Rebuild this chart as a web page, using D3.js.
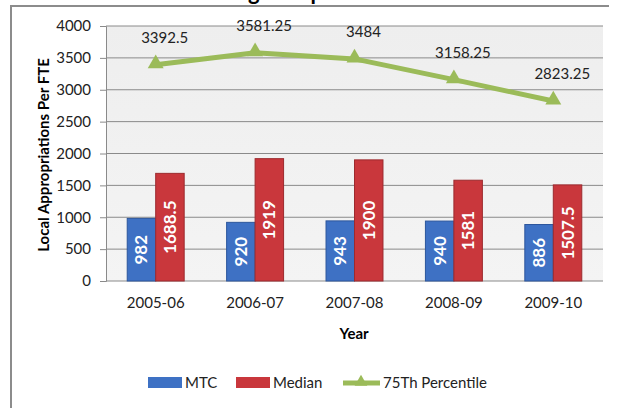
<!DOCTYPE html>
<html>
<head>
<meta charset="utf-8">
<title>Local Appropriations Comparison</title>
<script src="https://cdn.jsdelivr.net/npm/d3@7"></script>
<style>
  body { margin: 0; background: #fff; }
  text { font-family: Lato, "Open Sans", sans-serif; }
</style>
</head>
<body>
<svg id="chart" width="618" height="408"></svg>
<script>
// data
const years = ["2005-06", "2006-07", "2007-08", "2008-09", "2009-10"];
const mtc = [982, 920, 943, 940, 886];
const median = [1688.5, 1919, 1900, 1581, 1507.5];
const pct75 = [3392.5, 3581.25, 3484, 3158.25, 2823.25];
const yTicks = [0, 500, 1000, 1500, 2000, 2500, 3000, 3500, 4000];

const svg = d3.select("#chart");
const plot = {left: 106, right: 603, top: 26, bottom: 281};

// frame of the whole chart (top + left edge visible)
svg.append("path")
  .attr("d", "M11,408 L11,6 L609,6")
  .attr("fill", "none").attr("stroke", "#8c8c8c").attr("stroke-width", 2);

// title, cropped at the top of the picture
svg.append("text")
  .attr("x", 125).attr("y", 0)
  .attr("font-size", 22).attr("font-weight", "bold")
  .text("Local Funding Comparison");

const defs = svg.append("defs");
const bg = defs.append("linearGradient").attr("id", "bg").attr("x1", 0).attr("y1", 0).attr("x2", 0).attr("y2", 1);
bg.append("stop").attr("offset", 0).attr("stop-color", "#eeeeee");
bg.append("stop").attr("offset", 1).attr("stop-color", "#f4f4f4");

const x = d3.scaleBand().domain(years).range([plot.left, plot.right]).paddingInner(0.427).paddingOuter(0.2135);
const inner = d3.scaleBand().domain(["mtc", "median"]).range([0, x.bandwidth()]);
const y = d3.scaleLinear().domain([0, 4000]).range([plot.bottom, plot.top]);
const cx = d => x(d) + x.bandwidth() / 2;

svg.append("rect")
  .attr("x", plot.left).attr("y", plot.top)
  .attr("width", plot.right - plot.left).attr("height", plot.bottom - plot.top)
  .attr("fill", "url(#bg)");

// gridlines
svg.append("g").selectAll("line").data(yTicks.filter(d => d > 0)).join("line")
  .attr("x1", plot.left).attr("x2", plot.right)
  .attr("y1", d => y(d)).attr("y2", d => y(d))
  .attr("stroke", "#8a8a8a").attr("stroke-width", 1);

// y axis
const yAxis = svg.append("g")
  .attr("transform", `translate(${plot.left},0)`)
  .call(d3.axisLeft(y).tickValues(yTicks).tickFormat(d3.format("d")).tickSize(6).tickPadding(9));
yAxis.select(".domain").attr("stroke", "#8a8a8a");
yAxis.selectAll(".tick line").attr("stroke", "#8a8a8a");
yAxis.selectAll(".tick text").attr("font-size", 15).attr("fill", "#222")
  .attr("font-family", "Lato, sans-serif");

// x axis baseline
svg.append("line")
  .attr("x1", plot.left).attr("x2", plot.right)
  .attr("y1", plot.bottom).attr("y2", plot.bottom)
  .attr("stroke", "#8a8a8a");

const xAxis = svg.append("g")
  .attr("transform", `translate(0,${plot.bottom})`)
  .call(d3.axisBottom(x).tickSize(0).tickPadding(16));
xAxis.select(".domain").remove();
xAxis.selectAll(".tick text").attr("font-size", 15).attr("fill", "#222")
  .attr("font-family", "Lato, sans-serif");

// axis titles
svg.append("text")
  .attr("transform", "translate(49,155) rotate(-90)")
  .attr("text-anchor", "middle").attr("font-size", 15).attr("font-weight", "bold")
  .text("Local Appropriations Per FTE");
svg.append("text")
  .attr("x", 354).attr("y", 339)
  .attr("text-anchor", "middle").attr("font-size", 15).attr("font-weight", "bold")
  .text("Year");

// bars
const series = [
  {key: "mtc", values: mtc, fill: "#3e71c4", stroke: "#2c569c"},
  {key: "median", values: median, fill: "#c9373c", stroke: "#9c2a2e"}
];
series.forEach(s => {
  const g = svg.append("g");
  g.selectAll("rect").data(s.values).join("rect")
    .attr("x", (d, i) => x(years[i]) + inner(s.key))
    .attr("y", d => y(d))
    .attr("width", inner.bandwidth())
    .attr("height", d => y(0) - y(d))
    .attr("fill", s.fill).attr("stroke", s.stroke).attr("stroke-width", 1);
  g.selectAll("text").data(s.values).join("text")
    .attr("transform", (d, i) => {
      const bx = x(years[i]) + inner(s.key) + inner.bandwidth() / 2;
      const by = (y(d) + y(0)) / 2;
      return `translate(${bx + 6},${by}) rotate(-90)`;
    })
    .attr("text-anchor", "middle").attr("font-size", 17).attr("font-weight", "bold")
    .attr("fill", "#fff")
    .text(d => d);
});

// 75th percentile line
const green = "#9bbb59";
const line = d3.line().x((d, i) => cx(years[i])).y(d => y(d));
svg.append("path").datum(pct75)
  .attr("d", line).attr("fill", "none")
  .attr("stroke", green).attr("stroke-width", 5).attr("stroke-linejoin", "round");
const tri = d3.symbol().type(d3.symbolTriangle).size(110);
svg.append("g").selectAll("path").data(pct75).join("path")
  .attr("transform", (d, i) => `translate(${cx(years[i])},${y(d) - 1})`)
  .attr("d", tri).attr("fill", green);
svg.append("g").selectAll("text").data(pct75).join("text")
  .attr("x", (d, i) => cx(years[i]) + 9)
  .attr("y", d => y(d) - 22)
  .attr("text-anchor", "middle").attr("font-size", 15).attr("fill", "#222")
  .text(d => d);

// legend
const legend = svg.append("g").attr("transform", "translate(0,383)");
const items = [
  {label: "MTC", type: "bar", color: "#3e71c4", x: 148},
  {label: "Median", type: "bar", color: "#c9373c", x: 236},
  {label: "75Th Percentile", type: "line", color: green, x: 343}
];
items.forEach(it => {
  const g = legend.append("g").attr("transform", `translate(${it.x},0)`);
  if (it.type === "bar") {
    g.append("rect").attr("x", 0).attr("y", -6).attr("width", 34).attr("height", 11).attr("fill", it.color);
  } else {
    g.append("line").attr("x1", 0).attr("x2", 37).attr("y1", 0).attr("y2", 0)
      .attr("stroke", it.color).attr("stroke-width", 5);
    g.append("path").attr("transform", "translate(18,-1)")
      .attr("d", d3.symbol().type(d3.symbolTriangle).size(70)).attr("fill", it.color);
  }
  g.append("text").attr("x", it.type === "bar" ? 37 : 40).attr("y", 5)
    .attr("font-size", 15).attr("fill", "#222").text(it.label);
});
</script>
</body>
</html>
